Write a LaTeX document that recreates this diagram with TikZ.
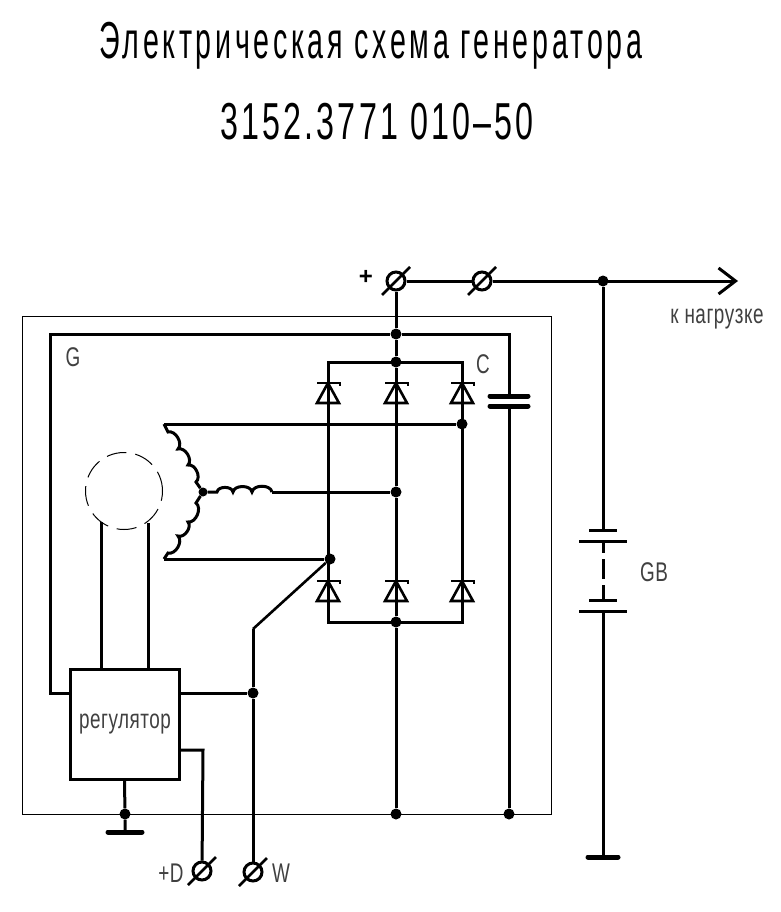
\documentclass[tikz,border=0pt]{standalone}
\usepackage{fontspec}
\newfontfamily\gostfont[FakeStretch=0.55,LetterSpace=7]{Liberation Sans}
\newfontfamily\codefont[FakeStretch=0.62,LetterSpace=6]{Liberation Sans}
\newfontfamily\lblfont[FakeStretch=0.7,LetterSpace=2]{Liberation Sans}
\newfontfamily\plusfont{Liberation Sans}
\usetikzlibrary{arrows.meta,calc}
\tikzset{
    wire/.style={line width=3pt},
    thinwire/.style={line width=1pt},
    dot/.style={circle,fill=black,inner sep=0pt,minimum size=11pt},
    term/.style={circle,draw,line width=3pt,inner sep=0pt,minimum size=18pt,
        append after command={(\tikzlastnode.center)+(-14,14) edge[line width=2.6pt] +(14,-14)}},
    bar/.style={line width=5pt,line cap=round},
    lbl/.style={inner sep=0pt,text=black!75,font=\lblfont\fontsize{27}{27}\selectfont},
    title/.style={inner sep=0pt,font=\gostfont\fontsize{52}{52}\selectfont}
}
\begin{document}
\begin{tikzpicture}[x=1pt,y=-1pt]
    \useasboundingbox (0,0) rectangle (780,912);
    \draw [thinwire] (22,316) rectangle (551,814);
    \node [title] (head) at (371,46) {Электрическая схема генератора};
    \node [title,font=\codefont\fontsize{52}{52}\selectfont] (code) at (377,122) {3152.3771 010–50};

    % Terminals
    \node [term] (plus) at (396,281) {};
    \node [term] (fuse) at (482,281) {};
    \node [term] (termD) at (202,871) {};
    \node [term] (termW) at (253,872) {};

    % Junctions
    \foreach \name/\x/\y in {jG/396/334, jTop/396/362, jPhaseA/462/424, jPhaseB/396/492, jPhaseC/330/559, jBot/396/622, jMid/603/281, jGnd/396/814, jCap/509/814, jReg/253/693, jReg2/125/814} {
        \node [dot] (\name) at (\x,\y) {};
    }
    \node [dot,minimum size=9pt] (star) at (203,492) {};

    % Regulator and rotor
    \node [draw,wire,minimum width=109pt,minimum height=110pt,inner sep=0pt] (reg) at (124.5,724) {};
    \node [lbl] (regText) at (125,724) {регулятор};
    \node [draw,thinwire,circle,dash pattern=on 20pt off 9pt,minimum size=77pt,inner sep=0pt] (rotor) at (124,491) {};

    % Free ends
    \foreach \name/\x/\y in {gL/50/334, gB/50/693, capT/509/334, capA/509/396, capB/509/406, load/738/281, batA/603/530, batB/603/541, batC/603/600, batD/603/611, batG/603/857, brTL/328/362, brTR/462/362, brBL/328/622, brBR/462/622, phA/164/424, phB/272/492, phC/164/559, knee/253/629, regD/203/750, regG/125/832, fA/101/522, fB/148/523} {
        \coordinate (\name) at (\x,\y);
    }

    % Diode bridge
    \draw [wire] (brTL) -- (brTR) -- (brBR) -- (brBL) -- cycle;
    \foreach \x in {328,396,462} {
        \foreach \y in {393,591} {
            \draw [line width=2.6pt,fill=white] (\x-11,\y+10) -- (\x,\y-10) -- (\x+11,\y+10) -- cycle;
            \draw [line width=2.6pt] (\x-11,\y-10) -- (\x+12,\y-10) -- (\x+12,\y-7);
            \draw [wire] (\x,\y-10) -- (\x,\y+10);
        }
    }

    % Output and bus
    \draw [wire] (plus) -- (fuse);
    \draw [wire,-{Straight Barb[length=17pt,width=26pt,line width=3pt]}] (fuse) -- (load);
    \draw [wire] (plus) -- (jG) -- (jTop) -- (jPhaseB) -- (jBot) -- (jGnd);
    \draw [wire] (reg.west |- gB) -- (gB) -- (gL) -- (jG) -- (capT) -- (capA);
    \draw [wire] (capB) -- (jCap);
    \draw [bar] ($(capA)+(-19,0)$) -- ($(capA)+(19,0)$);
    \draw [bar] ($(capB)+(-19,0)$) -- ($(capB)+(19,0)$);

    % Battery
    \draw [wire] (jMid) -- (batA);
    \draw [wire] ($(batA)+(-14,0)$) -- ($(batA)+(14,0)$);
    \draw [wire] ($(batB)+(-24,0)$) -- ($(batB)+(24,0)$);
    \draw [wire,dash pattern=on 12pt off 6pt on 20pt off 6pt on 12pt off 0pt] (batB) -- (batC);
    \draw [wire] ($(batC)+(-14,0)$) -- ($(batC)+(14,0)$);
    \draw [wire] ($(batD)+(-24,0)$) -- ($(batD)+(24,0)$);
    \draw [wire] (batD) -- (batG);
    \draw [bar] ($(batG)+(-15,0)$) -- ($(batG)+(15,0)$);

    % Stator
    \draw [wire] (phA) -- (jPhaseA);
    \draw [wire] (phB) -- (jPhaseB);
    \draw [wire] (phC) -- (jPhaseC);
    \draw [wire] (phA) -- (168,432) to[bend left=75] (178,449) to[bend left=75] (188,465) to[bend left=75] (196,482) -- (star);
    \draw [wire] (star) -- (196,503) to[bend left=75] (188,522) to[bend left=75] (178,536) to[bend left=75] (168,553) -- (phC);
    \draw [wire] (star) -- (217,492) to[bend left=80] (233,492) to[bend left=80] (252,492) to[bend left=80] (phB);
    \draw [line width=2.6pt] (jPhaseC) -- (knee);
    \draw [wire] (knee) -- (jReg) -- (termW);

    % Regulator wiring
    \draw [wire] (fA) -- (fA |- reg.north);
    \draw [wire] (fB) -- (fB |- reg.north);
    \draw [wire] (reg.east |- jReg) -- (jReg);
    \draw [wire] (reg.east |- regD) -- (regD) -- (termD);
    \draw [wire] (reg.south) -- (jReg2) -- (regG);
    \draw [bar] ($(regG)+(-17,0)$) -- ($(regG)+(17,0)$);

    % Labels
    \node [lbl,text=black,font=\plusfont\bfseries\fontsize{24}{24}\selectfont] (plusText) at (366,277) {+};
    \node [lbl] (gText) at (73,357) {G};
    \node [lbl] (cText) at (483,364) {C};
    \node [lbl] (gbText) at (654,572) {GB};
    \node [lbl] (loadText) at (717,319) {к нагрузке};
    \node [lbl] (dText) at (171,873) {+D};
    \node [lbl] (wText) at (281,873) {W};
\end{tikzpicture}
\end{document}
